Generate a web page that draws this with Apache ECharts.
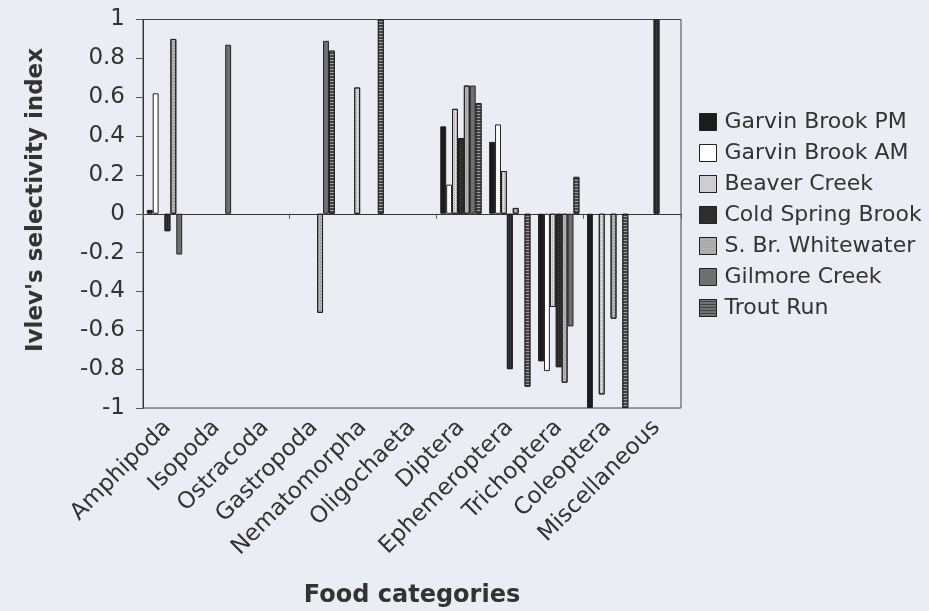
<!DOCTYPE html>
<html>
<head>
<meta charset="utf-8">
<script src="https://cdn.jsdelivr.net/npm/echarts@6/dist/echarts.min.js"></script>
<style>
  html, body { margin: 0; padding: 0; background: #ebedf4; }
  #chart { width: 929px; height: 611px; }
</style>
</head>
<body>
<div id="chart"></div>
<script>
// Food categories on the x axis
const categories = ['Amphipoda', 'Isopoda', 'Ostracoda', 'Gastropoda', 'Nematomorpha',
  'Oligochaeta', 'Diptera', 'Ephemeroptera', 'Trichoptera', 'Coleoptera', 'Miscellaneous'];

// Ivlev's selectivity index per stream (null = not present)
const garvinPM   = [0.02, null, null, null, null, null, 0.45, 0.37, -0.76, -1.00, null];
const garvinAM   = [0.62, null, null, null, null, null, 0.15, 0.46, -0.81, null, null];
const beaver     = [null, null, null, null, 0.65, null, 0.54, 0.22, -0.48, -0.93, null];
const coldSpring = [-0.09, null, null, null, null, null, 0.39, -0.80, -0.79, null, 1.00];
const sBrWhite   = [0.90, null, null, -0.51, null, null, 0.66, 0.03, -0.87, -0.54, null];
const gilmore    = [-0.21, 0.87, null, 0.89, null, null, 0.66, null, -0.58, null, null];
const troutRun   = [null, null, null, 0.84, 1.00, null, 0.57, -0.89, 0.19, -1.00, null];

const yTicks = { min: -1, max: 1, step: 0.2 };

const FONT = 'DejaVu Sans';
const INK = '#333';

const seriesDefs = [
  { name: 'Garvin Brook PM', data: garvinPM, color: '#1c1c1c' },
  { name: 'Garvin Brook AM', data: garvinAM, color: '#ffffff' },
  { name: 'Beaver Creek', data: beaver, color: '#dcdcdc',
    decal: { symbol: 'rect', symbolSize: 1, color: '#a8a8a8', dashArrayX: [1, 1], dashArrayY: [1, 1] } },
  { name: 'Cold Spring Brook', data: coldSpring, color: '#262626',
    decal: { symbol: 'rect', symbolSize: 1, color: '#4a4a4a', dashArrayX: [1, 1], dashArrayY: [1, 1] } },
  { name: 'S. Br. Whitewater', data: sBrWhite, color: '#b4b4b4',
    decal: { symbol: 'rect', symbolSize: 1, color: '#8a8a8a', dashArrayX: [1, 1], dashArrayY: [1, 2] } },
  { name: 'Gilmore Creek', data: gilmore, color: '#6f6f6f' },
  { name: 'Trout Run', data: troutRun, color: '#444444',
    decal: { symbol: 'rect', symbolSize: 1, color: '#a0a0a0', dashArrayX: [[1, 0]], dashArrayY: [1, 2] } }
];

const chart = echarts.init(document.getElementById('chart'), null, { renderer: 'canvas' });

chart.setOption({
  backgroundColor: '#ebedf4',
  animation: false,
  grid: {
    left: 143, right: 248, top: 19.5, bottom: 203,
    outerBoundsMode: 'none', containLabel: false,
    show: true, borderColor: '#444', borderWidth: 1, backgroundColor: 'transparent'
  },
  legend: {
    orient: 'vertical',
    left: 699, top: 111, padding: 0,
    itemWidth: 17, itemHeight: 17, itemGap: 9,
    icon: 'rect',
    textStyle: { fontFamily: FONT, fontSize: 22, lineHeight: 22, color: INK, padding: [0, 0, 0, 3] },
    itemStyle: { borderColor: '#222', borderWidth: 1 },
    data: seriesDefs.map(s => s.name)
  },
  xAxis: [
    {
      // zero line with category ticks
      type: 'category', data: categories,
      axisLine: { onZero: true, lineStyle: { color: '#333', width: 1 } },
      axisTick: { show: true, length: 5, lineStyle: { color: '#555' } },
      axisLabel: { show: false },
      splitLine: { show: false }
    },
    {
      // category labels along the bottom edge
      type: 'category', data: categories, position: 'bottom',
      axisLine: { show: false, onZero: false },
      axisTick: { show: false },
      axisLabel: { show: true, rotate: 45, interval: 0, margin: 16,
        fontFamily: FONT, fontSize: 23, color: INK },
      name: 'Food categories', nameLocation: 'middle', nameGap: 176,
      nameTextStyle: { fontFamily: FONT, fontSize: 24, fontWeight: 'bold', color: INK }
    }
  ],
  yAxis: {
    type: 'value', min: yTicks.min, max: yTicks.max, interval: yTicks.step,
    axisLine: { show: true, lineStyle: { color: '#333' } },
    axisTick: { show: true, length: 7, lineStyle: { color: '#555' } },
    axisLabel: { margin: 18, fontFamily: FONT, fontSize: 23, color: INK,
      formatter: v => String(Math.round(v * 10) / 10) },
    splitLine: { show: false }
  },
  graphic: [{
    type: 'text', x: 36, y: 200, rotation: Math.PI / 2,
    style: { text: "Ivlev's selectivity index", font: 'bold 23px "DejaVu Sans"', fill: INK,
      textAlign: 'center', textVerticalAlign: 'middle' }
  }],
  series: seriesDefs.map(s => ({
    name: s.name, type: 'bar', xAxisIndex: 0,
    data: s.data,
    barWidth: 5.9, barGap: '0%',
    itemStyle: Object.assign({ color: s.color, borderColor: '#222', borderWidth: 1 },
      s.decal ? { decal: s.decal } : {}),
    emphasis: { disabled: true }
  }))
});
</script>
</body>
</html>
